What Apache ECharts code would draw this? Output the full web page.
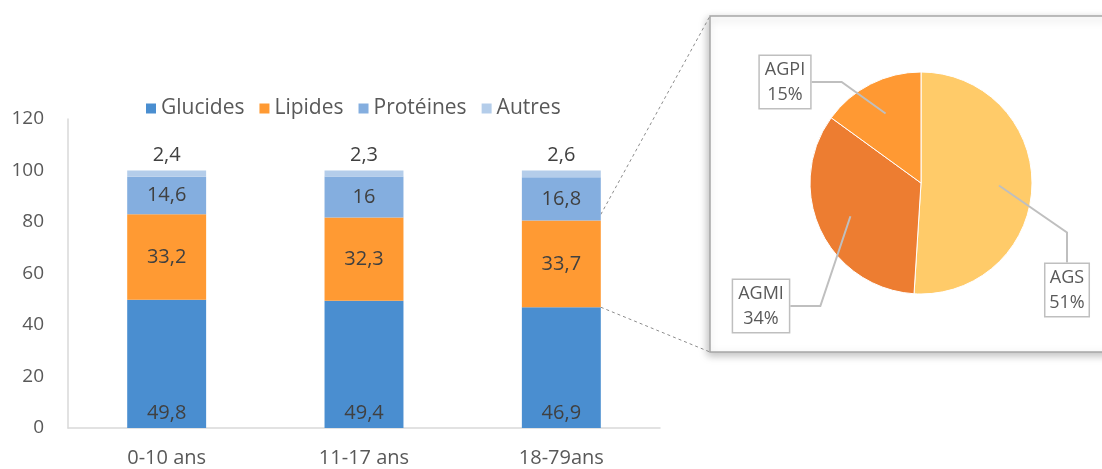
<!DOCTYPE html>
<html>
<head>
<meta charset="utf-8">
<script src="https://cdn.jsdelivr.net/npm/echarts@6/dist/echarts.min.js"></script>
<style>
  html, body { margin: 0; padding: 0; background: #fff; }
  #chart { width: 1102px; height: 469px; }
</style>
</head>
<body>
<div id="chart"></div>
<script>
// données
var ages = ["0-10 ans", "11-17 ans", "18-79ans"];
var glucides = [49.8, 49.4, 46.9];
var lipides = [33.2, 32.3, 33.7];
var proteines = [14.6, 16, 16.8];
var autres = [2.4, 2.3, 2.6];
var yTicks = [0, 20, 40, 60, 80, 100, 120];

var acides = ["AGS", "AGMI", "AGPI"];
var acidesPct = [51, 34, 15];

var font = "'Open Sans', 'Noto Sans', sans-serif";
var virgule = function (v) { return String(v).replace(".", ","); };

var chart = echarts.init(document.getElementById("chart"), null, { renderer: "canvas" });

function barSerie(name, values, color, pos) {
  return {
    name: name,
    type: "bar",
    stack: "total",
    barWidth: "40%",
    data: values,
    itemStyle: { color: color },
    label: {
      show: true,
      position: pos,
      color: "#404040",
      fontSize: 20,
      fontFamily: font,
      formatter: function (p) { return virgule(p.value); }
    }
  };
}

// positions des étiquettes du camembert (centre de chaque boîte)
var pieLabelPos = {
  AGS: [1067, 290],
  AGMI: [761, 306],
  AGPI: [785, 82]
};

var pieData = acides.map(function (n, i) { return { name: n, value: acidesPct[i] }; });

var option = {
  animation: false,
  color: ["#4A8ED0", "#FF9A33", "#84AEDF", "#B4CDEA"],
  legend: {
    data: ["Glucides", "Lipides", "Protéines", "Autres"],
    left: 141,
    top: 93,
    icon: "rect",
    itemWidth: 10,
    itemHeight: 10,
    itemGap: 15,
    textStyle: { color: "#595959", fontSize: 21, fontFamily: font }
  },
  grid: { left: 68, right: 442, top: 119, bottom: 41 },
  xAxis: {
    type: "category",
    data: ages,
    axisLine: { lineStyle: { color: "#d9d9d9", width: 1.5 } },
    axisTick: { show: false },
    axisLabel: { color: "#595959", fontSize: 20, fontFamily: font, margin: 20 }
  },
  yAxis: {
    type: "value",
    min: yTicks[0],
    max: yTicks[yTicks.length - 1],
    interval: 20,
    splitLine: { show: false },
    axisLine: { show: true, lineStyle: { color: "#d9d9d9", width: 1.5 } },
    axisLabel: { color: "#595959", fontSize: 19, fontFamily: font, margin: 24 }
  },
  graphic: [
    {
      type: "rect",
      id: "cadre",
      z: 0,
      shape: { x: 710, y: 16, width: 420, height: 336 },
      style: {
        fill: "#fff",
        stroke: "#a6a6a6",
        lineWidth: 1.5,
        shadowBlur: 8,
        shadowColor: "rgba(0,0,0,0.25)",
        shadowOffsetX: -2,
        shadowOffsetY: 3
      }
    }
  ],
  series: [
    barSerie("Glucides", glucides, "#4A8ED0", "insideBottom"),
    barSerie("Lipides", lipides, "#FF9A33", "inside"),
    barSerie("Protéines", proteines, "#84AEDF", "inside"),
    barSerie("Autres", autres, "#B4CDEA", "top"),
    {
      name: "acides",
      type: "pie",
      center: [921, 183],
      radius: [0, 111],
      startAngle: 90,
      silent: true,
      data: pieData,
      color: ["#FFCB69", "#ED7D31", "#FF9933"],
      itemStyle: { borderColor: "#fff", borderWidth: 1 },
      label: { show: false },
      labelLine: { show: false },
      z: 3
    },
    {
      // pie invisible, sert aux étiquettes et à leurs traits
      name: "etiquettes",
      type: "pie",
      center: [921, 183],
      radius: [0, 78],
      startAngle: 90,
      silent: true,
      data: pieData,
      itemStyle: { color: "rgba(0,0,0,0)" },
      label: {
        show: true,
        formatter: "{b}\n{d}%",
        color: "#595959",
        fontSize: 18,
        fontFamily: font,
        lineHeight: 25,
        align: "center",
        overflow: "none",
        backgroundColor: "#fff",
        borderColor: "#bfbfbf",
        borderWidth: 1.5,
        padding: [2, 5, 0, 5]
      },
      labelLine: { show: true, lineStyle: { color: "#bfbfbf", width: 2 } },
      labelLayout: function (p) {
        var pos = pieLabelPos[acides[p.dataIndex]];
        return { x: pos[0], y: pos[1], align: "center", verticalAlign: "middle" };
      },
      z: 4
    }
  ]
};

chart.setOption(option);

// traits pointillés entre la barre 18-79ans et le cadre
var last = ages.length - 1;
var c0 = chart.convertToPixel({ gridIndex: 0 }, [ages[last - 1], 0]);
var c1 = chart.convertToPixel({ gridIndex: 0 }, [ages[last], 0]);
var halfBar = (c1[0] - c0[0]) * 0.4 / 2;
var haut = chart.convertToPixel({ gridIndex: 0 }, [ages[last], glucides[last] + lipides[last]]);
var bas = chart.convertToPixel({ gridIndex: 0 }, [ages[last], glucides[last]]);
var xr = c1[0] + halfBar;
var dashStyle = { stroke: "#8c8c8c", lineWidth: 1, lineDash: [3, 3] };

chart.setOption({
  graphic: [
    { type: "line", id: "trait-haut", z: 1, shape: { x1: xr, y1: haut[1] - 6, x2: 710, y2: 16 }, style: dashStyle },
    { type: "line", id: "trait-bas", z: 1, shape: { x1: xr, y1: bas[1], x2: 710, y2: 352 }, style: dashStyle }
  ]
});

window.onresize = function () {
  chart.resize();
};
</script>
</body>
</html>
